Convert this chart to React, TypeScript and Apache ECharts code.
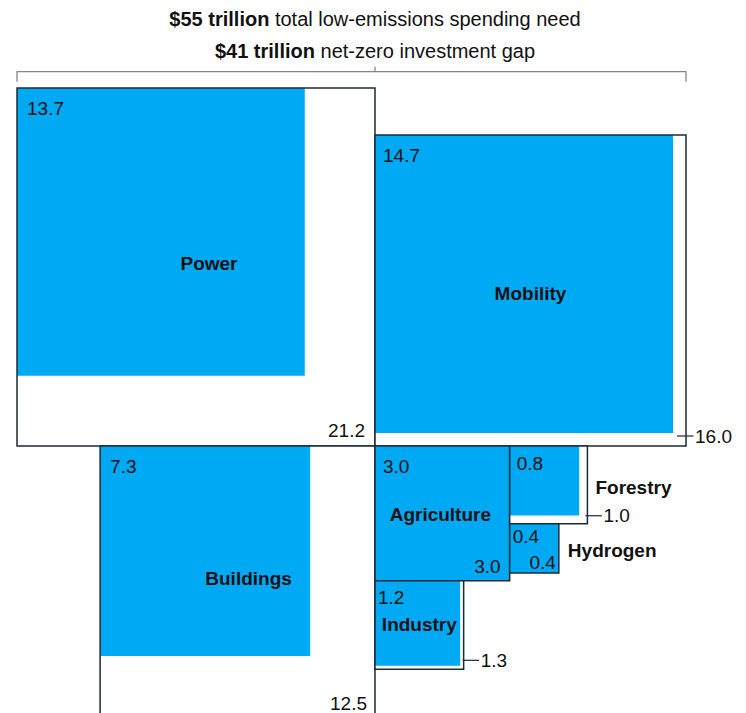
import React, { useEffect, useRef } from 'react';
import * as echarts from 'echarts';

// ---------------- data ($ trillion) ----------------
const sectors = ['Power', 'Mobility', 'Buildings', 'Agriculture', 'Forestry', 'Hydrogen', 'Industry'];
const spendingNeed = [21.2, 16.0, 12.5, 3.0, 1.0, 0.4, 1.3];
const investmentGap = [13.7, 14.7, 7.3, 3.0, 0.8, 0.4, 1.2];
const headlineFigures = ['$55 trillion', '$41 trillion'];
const headlineTexts = ['total low-emissions spending need', 'net-zero investment gap'];

// ---------------- layout / style config ----------------
const WIDTH = 746;
const HEIGHT = 713;
const PX_PER_UNIT = 77.75; // pixels per sqrt($ trillion)
const ORIGIN_PX = [375, 446];

const BLUE = '#00a9f4';
const BORDER = '#1b2a38';
const INK = '#111111';
const BRACKET = '#858585';
const FONT = '"Liberation Sans", Arial, Helvetica, sans-serif';

type LabelCfg = {
  gap: [number, number];
  need: 'in' | 'out';
  needOff?: [number, number];
  tick?: [number, number];
  name: 'center' | 'right';
  nameOff: [number, number];
};

const labelStyle: Record<string, LabelCfg> = {
  Power: { gap: [10, 20], need: 'in', needOff: [-10, -16], name: 'center', nameOff: [13, -4] },
  Mobility: { gap: [8, 20], need: 'out', tick: [-9, -10], name: 'center', nameOff: [0, 3] },
  Buildings: { gap: [10, 20], need: 'in', needOff: [-8, -17], name: 'center', nameOff: [11, -5] },
  Agriculture: { gap: [8, 20], need: 'in', needOff: [-9, -14], name: 'center', nameOff: [-2, 1] },
  Forestry: { gap: [7, 17], need: 'out', tick: [-2, -8], name: 'right', nameOff: [8, 3] },
  Hydrogen: { gap: [3, 13], need: 'in', needOff: [-3, -10], name: 'right', nameOff: [9, 2] },
  Industry: { gap: [3, 17], need: 'out', tick: [-1, -9], name: 'center', nameOff: [0, 0] },
};

// squares (area ~ value) packed around a common corner point
function buildLayout() {
  const side = spendingNeed.map((v) => Math.sqrt(v));
  const s = (n: string) => side[sectors.indexOf(n)];
  const pos: Record<string, [number, number]> = {
    Power: [-s('Power'), -s('Power')],
    Mobility: [0, -s('Mobility')],
    Buildings: [-s('Buildings'), 0],
    Agriculture: [0, 0],
    Forestry: [s('Agriculture'), 0],
    Hydrogen: [s('Agriculture'), s('Forestry')],
    Industry: [0, s('Agriculture')],
  };
  return sectors.map((n, i) => [
    pos[n][0],
    pos[n][1],
    pos[n][0] + side[i],
    pos[n][1] + side[i],
    spendingNeed[i],
    investmentGap[i],
  ]);
}

export default function App() {
  const ref = useRef<HTMLDivElement>(null);

  useEffect(() => {
    document.body.style.margin = '0';
    if (!ref.current) return;
    const chart = echarts.init(ref.current, undefined, { renderer: 'svg' });

    const boxes = buildLayout();
    const pIdx = sectors.indexOf('Power');
    const mIdx = sectors.indexOf('Mobility');
    const bracketData = [[boxes[pIdx][0], boxes[mIdx][2], boxes[pIdx][1]]];

    const xMin = -ORIGIN_PX[0] / PX_PER_UNIT;
    const xMax = xMin + WIDTH / PX_PER_UNIT;
    const yMin = -ORIGIN_PX[1] / PX_PER_UNIT;
    const yMax = yMin + HEIGHT / PX_PER_UNIT;

    const numStyle = (text: string, x: number, y: number, align: string) => ({
      type: 'text',
      x,
      y,
      silent: true,
      style: {
        text,
        fill: INK,
        fontSize: 19,
        fontFamily: FONT,
        align,
        verticalAlign: 'middle',
      },
    });

    const option: any = {
      animation: false,
      backgroundColor: '#ffffff',
      grid: { left: 0, top: 0, width: WIDTH, height: HEIGHT, containLabel: false },
      xAxis: { type: 'value', min: xMin, max: xMax, show: false },
      yAxis: { type: 'value', min: yMin, max: yMax, inverse: true, show: false },
      series: [
        {
          type: 'custom',
          name: 'sectors',
          coordinateSystem: 'cartesian2d',
          encode: { x: [0, 2], y: [1, 3] },
          data: boxes,
          clip: false,
          renderItem: (params: any, api: any) => {
            const i = params.dataIndex;
            const name = sectors[i];
            const cfg = labelStyle[name];
            const x0 = api.value(0);
            const y0 = api.value(1);
            const x1 = api.value(2);
            const y1 = api.value(3);
            const need = api.value(4);
            const gap = api.value(5);
            const gs = Math.sqrt(gap);
            const p0 = api.coord([x0, y0]);
            const p1 = api.coord([x1, y1]);
            const pg = api.coord([x0 + gs, y0 + gs]);
            const w = p1[0] - p0[0];
            const h = p1[1] - p0[1];
            const children: any[] = [
              { type: 'rect', shape: { x: p0[0], y: p0[1], width: w, height: h }, style: { fill: '#ffffff' } },
              {
                type: 'rect',
                shape: { x: p0[0], y: p0[1], width: pg[0] - p0[0], height: pg[1] - p0[1] },
                style: { fill: BLUE },
              },
              {
                type: 'rect',
                shape: { x: p0[0], y: p0[1], width: w, height: h },
                style: { fill: 'none', stroke: BORDER, lineWidth: 1.5 },
              },
              numStyle(gap.toFixed(1), p0[0] + cfg.gap[0], p0[1] + cfg.gap[1], 'left'),
            ];
            if (cfg.need === 'in' && cfg.needOff) {
              children.push(numStyle(need.toFixed(1), p1[0] + cfg.needOff[0], p1[1] + cfg.needOff[1], 'right'));
            } else if (cfg.tick) {
              const tx = p1[0] + cfg.tick[0];
              const ty = p1[1] + cfg.tick[1];
              children.push({
                type: 'line',
                shape: { x1: tx, y1: ty, x2: tx + 16.5, y2: ty },
                style: { stroke: BORDER, lineWidth: 1.2 },
              });
              children.push(numStyle(need.toFixed(1), tx + 18, ty, 'left'));
            }
            const nx = cfg.name === 'center' ? (p0[0] + p1[0]) / 2 + cfg.nameOff[0] : p1[0] + cfg.nameOff[0];
            const ny = (p0[1] + p1[1]) / 2 + cfg.nameOff[1];
            children.push({
              type: 'text',
              x: nx,
              y: ny,
              silent: true,
              style: {
                text: name,
                fill: INK,
                fontSize: 19,
                fontWeight: 'bold',
                fontFamily: FONT,
                align: cfg.name === 'center' ? 'center' : 'left',
                verticalAlign: 'middle',
              },
            });
            return { type: 'group', children };
          },
        },
        {
          type: 'custom',
          name: 'bracket',
          coordinateSystem: 'cartesian2d',
          encode: { x: [0, 1], y: 2 },
          data: bracketData,
          clip: false,
          renderItem: (params: any, api: any) => {
            const l = api.coord([api.value(0), api.value(2)]);
            const r = api.coord([api.value(1), api.value(2)]);
            const m = api.coord([0, api.value(2)]);
            const by = l[1] - 16.3;
            const rich = {
              b: { fontWeight: 'bold', fontSize: 20, fontFamily: FONT, fill: INK },
              n: { fontWeight: 'normal', fontSize: 20, fontFamily: FONT, fill: INK },
            };
            return {
              type: 'group',
              children: [
                {
                  type: 'polyline',
                  shape: { points: [[l[0], by + 10], [l[0], by], [r[0], by], [r[0], by + 10]] },
                  style: { stroke: BRACKET, lineWidth: 1.3, fill: 'none' },
                },
                {
                  type: 'line',
                  shape: { x1: m[0], y1: by - 5, x2: m[0], y2: by },
                  style: { stroke: BRACKET, lineWidth: 1.3 },
                },
                {
                  type: 'text',
                  x: m[0],
                  y: by - 53,
                  style: {
                    text: `{b|${headlineFigures[0]}}{n| ${headlineTexts[0]}}`,
                    rich,
                    align: 'center',
                    verticalAlign: 'middle',
                    fontSize: 20,
                    fontFamily: FONT,
                    fill: INK,
                  },
                },
                {
                  type: 'text',
                  x: m[0],
                  y: by - 21,
                  style: {
                    text: `{b|${headlineFigures[1]}}{n| ${headlineTexts[1]}}`,
                    rich,
                    align: 'center',
                    verticalAlign: 'middle',
                    fontSize: 20,
                    fontFamily: FONT,
                    fill: INK,
                  },
                },
              ],
            };
          },
        },
      ],
    };

    chart.setOption(option);
    return () => {
      chart.dispose();
    };
  }, []);

  return <div ref={ref} style={{ width: WIDTH, height: HEIGHT }} />;
}
